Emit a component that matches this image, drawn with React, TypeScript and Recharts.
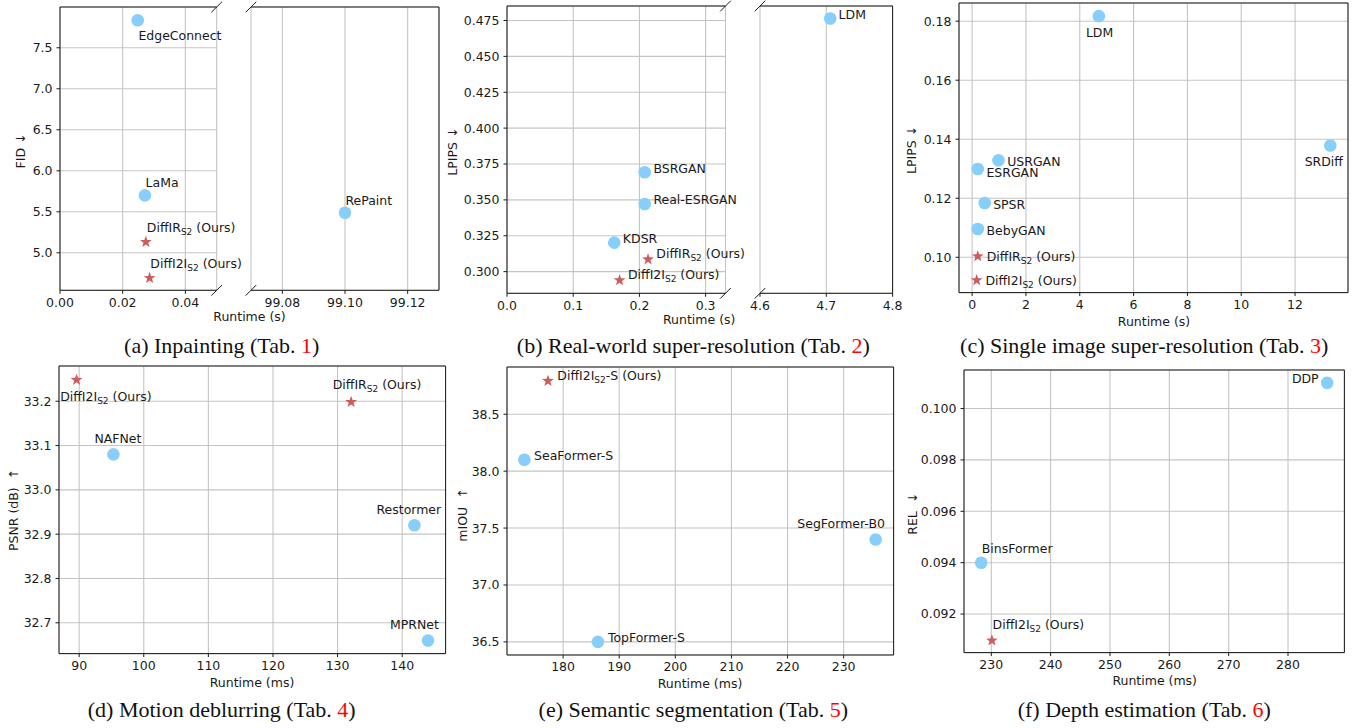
import React from 'react';
import { ScatterChart, Scatter, XAxis, YAxis, CartesianGrid, ReferenceLine, ReferenceDot } from 'recharts';

const SANS = "'DejaVu Sans', sans-serif";
const SERIF = "'Liberation Serif', 'Times New Roman', serif";
const BLUE = '#87CEFA';
const RED = '#CD5C5C';
const INK = '#1a1a1a';
const GRID = '#c4c4c4';
const FS = 12.5;

// ---------- (a) Inpainting ----------
const inpNames = ['EdgeConnect', 'LaMa', 'DiffIR_{S2} (Ours)', 'DiffI2I_{S2} (Ours)', 'RePaint'];
const inpRuntime = [0.0248, 0.0271, 0.0274, 0.0286, 99.1];
const inpFID = [7.835, 5.7, 5.142, 4.702, 5.489];
const inpOurs = [0, 0, 1, 1, 0];
const inpXLeftTicks = [0, 0.02, 0.04];
const inpXRightTicks = [99.08, 99.1, 99.12];
const inpYTicks = [5.0, 5.5, 6.0, 6.5, 7.0, 7.5];
const inpXLeftDomain = [0, 0.05];
const inpXRightDomain = [99.07, 99.13];
const inpYDomain = [4.543, 7.997];

// ---------- (b) Real-world SR ----------
const rwNames = ['LDM', 'BSRGAN', 'Real-ESRGAN', 'KDSR', 'DiffIR_{S2} (Ours)', 'DiffI2I_{S2} (Ours)'];
const rwRuntime = [4.706, 0.208, 0.208, 0.162, 0.213, 0.17];
const rwLPIPS = [0.4764, 0.3692, 0.3471, 0.3202, 0.3091, 0.2946];
const rwOurs = [0, 0, 0, 0, 1, 1];
const rwXLeftTicks = [0, 0.1, 0.2, 0.3];
const rwXRightTicks = [4.6, 4.7, 4.8];
const rwYTicks = [0.3, 0.325, 0.35, 0.375, 0.4, 0.425, 0.45, 0.475];
const rwXLeftDomain = [0, 0.33];
const rwXRightDomain = [4.6, 4.8];
const rwYDomain = [0.2849, 0.4851];

// ---------- (c) Single image SR ----------
const srNames = ['LDM', 'SRDiff', 'USRGAN', 'ESRGAN', 'SPSR', 'BebyGAN', 'DiffIR_{S2} (Ours)', 'DiffI2I_{S2} (Ours)'];
const srRuntime = [4.71, 13.31, 0.98, 0.21, 0.47, 0.21, 0.21, 0.17];
const srLPIPS = [0.1817, 0.1379, 0.1329, 0.1299, 0.1184, 0.1096, 0.1006, 0.0925];
const srOurs = [0, 0, 0, 0, 0, 0, 1, 1];
const srXTicks = [0, 2, 4, 6, 8, 10, 12];
const srYTicks = [0.1, 0.12, 0.14, 0.16, 0.18];
const srXDomain = [-0.487, 13.967];
const srYDomain = [0.08804, 0.18616];

// ---------- (d) Motion deblurring ----------
const dbNames = ['DiffI2I_{S2} (Ours)', 'DiffIR_{S2} (Ours)', 'NAFNet', 'Restormer', 'MPRNet'];
const dbRuntime = [89.6, 132.1, 95.3, 141.9, 144.0];
const dbPSNR = [33.25, 33.2, 33.08, 32.92, 32.66];
const dbOurs = [1, 1, 0, 0, 0];
const dbXTicks = [90, 100, 110, 120, 130, 140];
const dbYTicks = [32.7, 32.8, 32.9, 33.0, 33.1, 33.2];
const dbXDomain = [86.88, 146.72];
const dbYDomain = [32.6305, 33.2795];

// ---------- (e) Semantic segmentation ----------
const sgNames = ['DiffI2I_{S2}-S (Ours)', 'SeaFormer-S', 'SegFormer-B0', 'TopFormer-S'];
const sgRuntime = [177.3, 173.1, 235.7, 186.2];
const sgMIOU = [38.8, 38.1, 37.4, 36.5];
const sgOurs = [1, 0, 0, 0];
const sgXTicks = [180, 190, 200, 210, 220, 230];
const sgYTicks = [36.5, 37.0, 37.5, 38.0, 38.5];
const sgXDomain = [170.0, 238.9];
const sgYDomain = [36.385, 38.915];

// ---------- (f) Depth estimation ----------
const deNames = ['DDP', 'BinsFormer', 'DiffI2I_{S2} (Ours)'];
const deRuntime = [286.6, 228.3, 230.1];
const deREL = [0.101, 0.094, 0.091];
const deOurs = [0, 0, 1];
const deXTicks = [230, 240, 250, 260, 270, 280];
const deYTicks = [0.092, 0.094, 0.096, 0.098, 0.1];
const deXDomain = [225.4, 289.5];
const deYDomain = [0.0905, 0.1015];

type Pt = { name: string; x: number; y: number; ours: number };
type LabelPos = Record<string, [number, number, string]>;

const build = (names: string[], xs: number[], ys: number[], ours: number[]): Pt[] =>
  names.map((name, i) => ({ name, x: xs[i], y: ys[i], ours: ours[i] }));

const inpData = build(inpNames, inpRuntime, inpFID, inpOurs);
const rwData = build(rwNames, rwRuntime, rwLPIPS, rwOurs);
const srData = build(srNames, srRuntime, srLPIPS, srOurs);
const dbData = build(dbNames, dbRuntime, dbPSNR, dbOurs);
const sgData = build(sgNames, sgRuntime, sgMIOU, sgOurs);
const deData = build(deNames, deRuntime, deREL, deOurs);

// label offsets (px, relative to marker centre): dx, dy(baseline), anchor
const inpLabels: LabelPos = {
  EdgeConnect: [0.7, 20, 'start'],
  LaMa: [0.7, -8.3, 'start'],
  'DiffIR_{S2} (Ours)': [1, -9, 'start'],
  'DiffI2I_{S2} (Ours)': [0.7, -9, 'start'],
  RePaint: [0.4, -8, 'start'],
};
const rwLabels: LabelPos = {
  LDM: [8.3, 0.3, 'start'],
  BSRGAN: [8.7, 0.3, 'start'],
  'Real-ESRGAN': [8.7, 0.3, 'start'],
  KDSR: [8.6, 0.7, 'start'],
  'DiffIR_{S2} (Ours)': [8.3, -0.6, 'start'],
  'DiffI2I_{S2} (Ours)': [8.4, -0.7, 'start'],
};
const srLabels: LabelPos = {
  LDM: [0.7, 20.7, 'middle'],
  SRDiff: [-6.5, 21, 'middle'],
  USRGAN: [8.7, 6, 'start'],
  ESRGAN: [8.7, 8.4, 'start'],
  SPSR: [8.4, 6, 'start'],
  BebyGAN: [8.7, 6, 'start'],
  'DiffIR_{S2} (Ours)': [9, 5, 'start'],
  'DiffI2I_{S2} (Ours)': [8.7, 5.3, 'start'],
};
const dbLabels: LabelPos = {
  'DiffI2I_{S2} (Ours)': [-16.4, 22, 'start'],
  'DiffIR_{S2} (Ours)': [-18.4, -12, 'start'],
  NAFNet: [-19, -11.4, 'start'],
  Restormer: [-38, -11.6, 'start'],
  MPRNet: [-38, -11.7, 'start'],
};
const sgLabels: LabelPos = {
  'DiffI2I_{S2}-S (Ours)': [9.4, 0, 'start'],
  'SeaFormer-S': [9.7, 0, 'start'],
  'SegFormer-B0': [-78.3, -11.4, 'start'],
  'TopFormer-S': [10, 0, 'start'],
};
const deLabels: LabelPos = {
  DDP: [-35.3, 0, 'start'],
  BinsFormer: [0.6, -10, 'start'],
  'DiffI2I_{S2} (Ours)': [0.7, -10.3, 'start'],
};

function RichLabel({ x, y, anchor, text }: { x: number; y: number; anchor: string; text: string }) {
  const m = text.match(/^(.*?)_\{([^}]*)\}(.*)$/);
  return (
    <text x={x} y={y} textAnchor={anchor as any} fontSize={FS} fontFamily={SANS} fill={INK}>
      {m ? (
        <>
          {m[1]}
          <tspan fontSize={9} dy={3}>{m[2]}</tspan>
          <tspan dy={-3}>{m[3]}</tspan>
        </>
      ) : (
        text
      )}
    </text>
  );
}

function starPoints(cx: number, cy: number, R: number, r: number) {
  const pts: string[] = [];
  for (let k = 0; k < 10; k++) {
    const a = ((-90 + k * 36) * Math.PI) / 180;
    const rad = k % 2 === 0 ? R : r;
    pts.push(`${(cx + rad * Math.cos(a)).toFixed(2)},${(cy + rad * Math.sin(a)).toFixed(2)}`);
  }
  return pts.join(' ');
}

const makeShape = (labels: LabelPos) => (props: any) => {
  const { cx, cy, payload } = props;
  const pos = labels[payload.name] || [8, 0, 'start'];
  return (
    <g>
      {payload.ours ? (
        <polygon points={starPoints(cx, cy + 0.8, 6.2, 2.5)} fill={RED} />
      ) : (
        <circle cx={cx} cy={cy} r={6.3} fill={BLUE} />
      )}
      <RichLabel x={cx + pos[0]} y={cy + pos[1]} anchor={pos[2]} text={payload.name} />
    </g>
  );
};

const breakShape = (props: any) => (
  <line x1={props.cx - 5.3} y1={props.cy + 5.3} x2={props.cx + 5.3} y2={props.cy - 5.3} stroke={INK} strokeWidth={1} />
);

interface PanelProps {
  rect: number[];
  data: Pt[];
  labels: LabelPos;
  xDomain: number[];
  yDomain: number[];
  xTicks: number[];
  yTicks: number[];
  xDigits: number;
  yDigits: number;
  showY?: boolean;
  leftSpine?: boolean;
  rightSpine?: boolean;
  breakLeft?: boolean;
  breakRight?: boolean;
}

function Panel(p: PanelProps) {
  const [px, py, pw, ph] = p.rect;
  const YW = 60;
  const XH = 30;
  const MT = 14;
  const MR = p.breakRight ? 50 : 14;
  const W = pw + YW + MR;
  const H = ph + MT + XH;
  const tickStyle = { fill: INK, fontSize: FS, fontFamily: SANS };
  return (
    <div style={{ position: 'absolute', left: px - YW, top: py - MT, width: W, height: H }}>
      <ScatterChart width={W} height={H} margin={{ top: MT, right: MR, bottom: 0, left: 0 }}>
        <CartesianGrid stroke={GRID} strokeWidth={1.1} />
        <XAxis
          type="number"
          dataKey="x"
          domain={p.xDomain}
          ticks={p.xTicks}
          interval={0}
          height={XH}
          tickFormatter={(v: number) => v.toFixed(p.xDigits)}
          tick={tickStyle}
          tickSize={3.5}
          tickMargin={4}
          tickLine={{ stroke: INK }}
          axisLine={{ stroke: INK }}
        />
        <YAxis
          type="number"
          dataKey="y"
          domain={p.yDomain}
          ticks={p.yTicks}
          interval={0}
          width={YW}
          tickFormatter={(v: number) => v.toFixed(p.yDigits)}
          tick={p.showY === false ? false : tickStyle}
          tickSize={3.5}
          tickMargin={4}
          tickLine={p.showY === false ? false : { stroke: INK }}
          axisLine={p.leftSpine === false ? false : { stroke: INK }}
        />
        <ReferenceLine y={p.yDomain[1]} stroke={INK} strokeWidth={1} ifOverflow="visible" />
        {p.rightSpine !== false && (
          <ReferenceLine x={p.xDomain[1]} stroke={INK} strokeWidth={1} ifOverflow="visible" />
        )}
        {p.breakRight && (
          <ReferenceDot x={p.xDomain[1]} y={p.yDomain[1]} ifOverflow="visible" shape={breakShape} />
        )}
        {p.breakRight && (
          <ReferenceDot x={p.xDomain[1]} y={p.yDomain[0]} ifOverflow="visible" shape={breakShape} />
        )}
        {p.breakLeft && (
          <ReferenceDot x={p.xDomain[0]} y={p.yDomain[1]} ifOverflow="visible" shape={breakShape} />
        )}
        {p.breakLeft && (
          <ReferenceDot x={p.xDomain[0]} y={p.yDomain[0]} ifOverflow="visible" shape={breakShape} />
        )}
        <Scatter data={p.data} isAnimationActive={false} shape={makeShape(p.labels)} />
      </ScatterChart>
    </div>
  );
}

const xLabels = [
  { t: 'Runtime (s)', x: 249.5, y: 320.5 },
  { t: 'Runtime (s)', x: 699.2, y: 324 },
  { t: 'Runtime (s)', x: 1154, y: 326 },
  { t: 'Runtime (ms)', x: 252, y: 686.5 },
  { t: 'Runtime (ms)', x: 700, y: 688 },
  { t: 'Runtime (ms)', x: 1154.7, y: 684.5 },
];
const yLabels = [
  { t: 'FID ↓', x: 20.7, y: 151 },
  { t: 'LPIPS ↓', x: 452.5, y: 151.7 },
  { t: 'LPIPS ↓', x: 911.7, y: 150 },
  { t: 'PSNR (dB)  ↑', x: 13, y: 510 },
  { t: 'mIOU  ↑', x: 462.3, y: 515 },
  { t: 'REL  ↓', x: 912.3, y: 513.8 },
];
const captions = [
  { pre: '(a) Inpainting (Tab. ', num: '1', x: 221.7, y: 353 },
  { pre: '(b) Real-world super-resolution (Tab. ', num: '2', x: 693.3, y: 353 },
  { pre: '(c) Single image super-resolution (Tab. ', num: '3', x: 1144.2, y: 353 },
  { pre: '(d) Motion deblurring (Tab. ', num: '4', x: 221.7, y: 717 },
  { pre: '(e) Semantic segmentation (Tab. ', num: '5', x: 693.3, y: 717 },
  { pre: '(f) Depth estimation (Tab. ', num: '6', x: 1144.3, y: 717 },
];

export default function App() {
  return (
    <div style={{ position: 'absolute', left: 0, top: 0, width: 1364, height: 728, background: '#fff', overflow: 'hidden' }}>
      <Panel rect={[60, 7, 156.7, 283.3]} data={inpData.filter((d) => d.x < 1)} labels={inpLabels}
        xDomain={inpXLeftDomain} yDomain={inpYDomain} xTicks={inpXLeftTicks} yTicks={inpYTicks}
        xDigits={2} yDigits={1} rightSpine={false} breakRight />
      <Panel rect={[251.3, 7, 188, 283.3]} data={inpData.filter((d) => d.x > 1)} labels={inpLabels}
        xDomain={inpXRightDomain} yDomain={inpYDomain} xTicks={inpXRightTicks} yTicks={inpYTicks}
        xDigits={2} yDigits={1} showY={false} leftSpine={false} breakLeft />
      <Panel rect={[506.7, 6, 218.5, 287.3]} data={rwData.filter((d) => d.x < 1)} labels={rwLabels}
        xDomain={rwXLeftDomain} yDomain={rwYDomain} xTicks={rwXLeftTicks} yTicks={rwYTicks}
        xDigits={1} yDigits={3} rightSpine={false} breakRight />
      <Panel rect={[759.7, 6, 132.6, 287.3]} data={rwData.filter((d) => d.x > 1)} labels={rwLabels}
        xDomain={rwXRightDomain} yDomain={rwYDomain} xTicks={rwXRightTicks} yTicks={rwYTicks}
        xDigits={1} yDigits={3} showY={false} leftSpine={false} breakLeft />
      <Panel rect={[959.3, 2.7, 389, 289.6]} data={srData} labels={srLabels}
        xDomain={srXDomain} yDomain={srYDomain} xTicks={srXTicks} yTicks={srYTicks}
        xDigits={0} yDigits={2} />
      <Panel rect={[58.7, 365.7, 386.6, 287.6]} data={dbData} labels={dbLabels}
        xDomain={dbXDomain} yDomain={dbYDomain} xTicks={dbXTicks} yTicks={dbYTicks}
        xDigits={0} yDigits={1} />
      <Panel rect={[506.7, 366.7, 386.6, 288]} data={sgData} labels={sgLabels}
        xDomain={sgXDomain} yDomain={sgYDomain} xTicks={sgXTicks} yTicks={sgYTicks}
        xDigits={0} yDigits={1} />
      <Panel rect={[964.3, 369.7, 380.4, 282.6]} data={deData} labels={deLabels}
        xDomain={deXDomain} yDomain={deYDomain} xTicks={deXTicks} yTicks={deYTicks}
        xDigits={0} yDigits={3} />
      <svg width={1364} height={728} style={{ position: 'absolute', left: 0, top: 0, pointerEvents: 'none' }}>
        {xLabels.map((l, i) => (
          <text key={'x' + i} x={l.x} y={l.y} textAnchor="middle" fontSize={FS} fontFamily={SANS} fill={INK}>
            {l.t}
          </text>
        ))}
        {yLabels.map((l, i) => (
          <text key={'y' + i} transform={`translate(${l.x},${l.y}) rotate(-90)`} textAnchor="middle" dy="0.36em"
            fontSize={FS} fontFamily={SANS} fill={INK} style={{ whiteSpace: 'pre' }}>
            {l.t}
          </text>
        ))}
        {captions.map((c, i) => (
          <text key={'c' + i} x={c.x} y={c.y} textAnchor="middle" fontSize={22} fontFamily={SERIF} fill="#111">
            {c.pre}
            <tspan fill="#ff0000">{c.num}</tspan>)
          </text>
        ))}
      </svg>
    </div>
  );
}
